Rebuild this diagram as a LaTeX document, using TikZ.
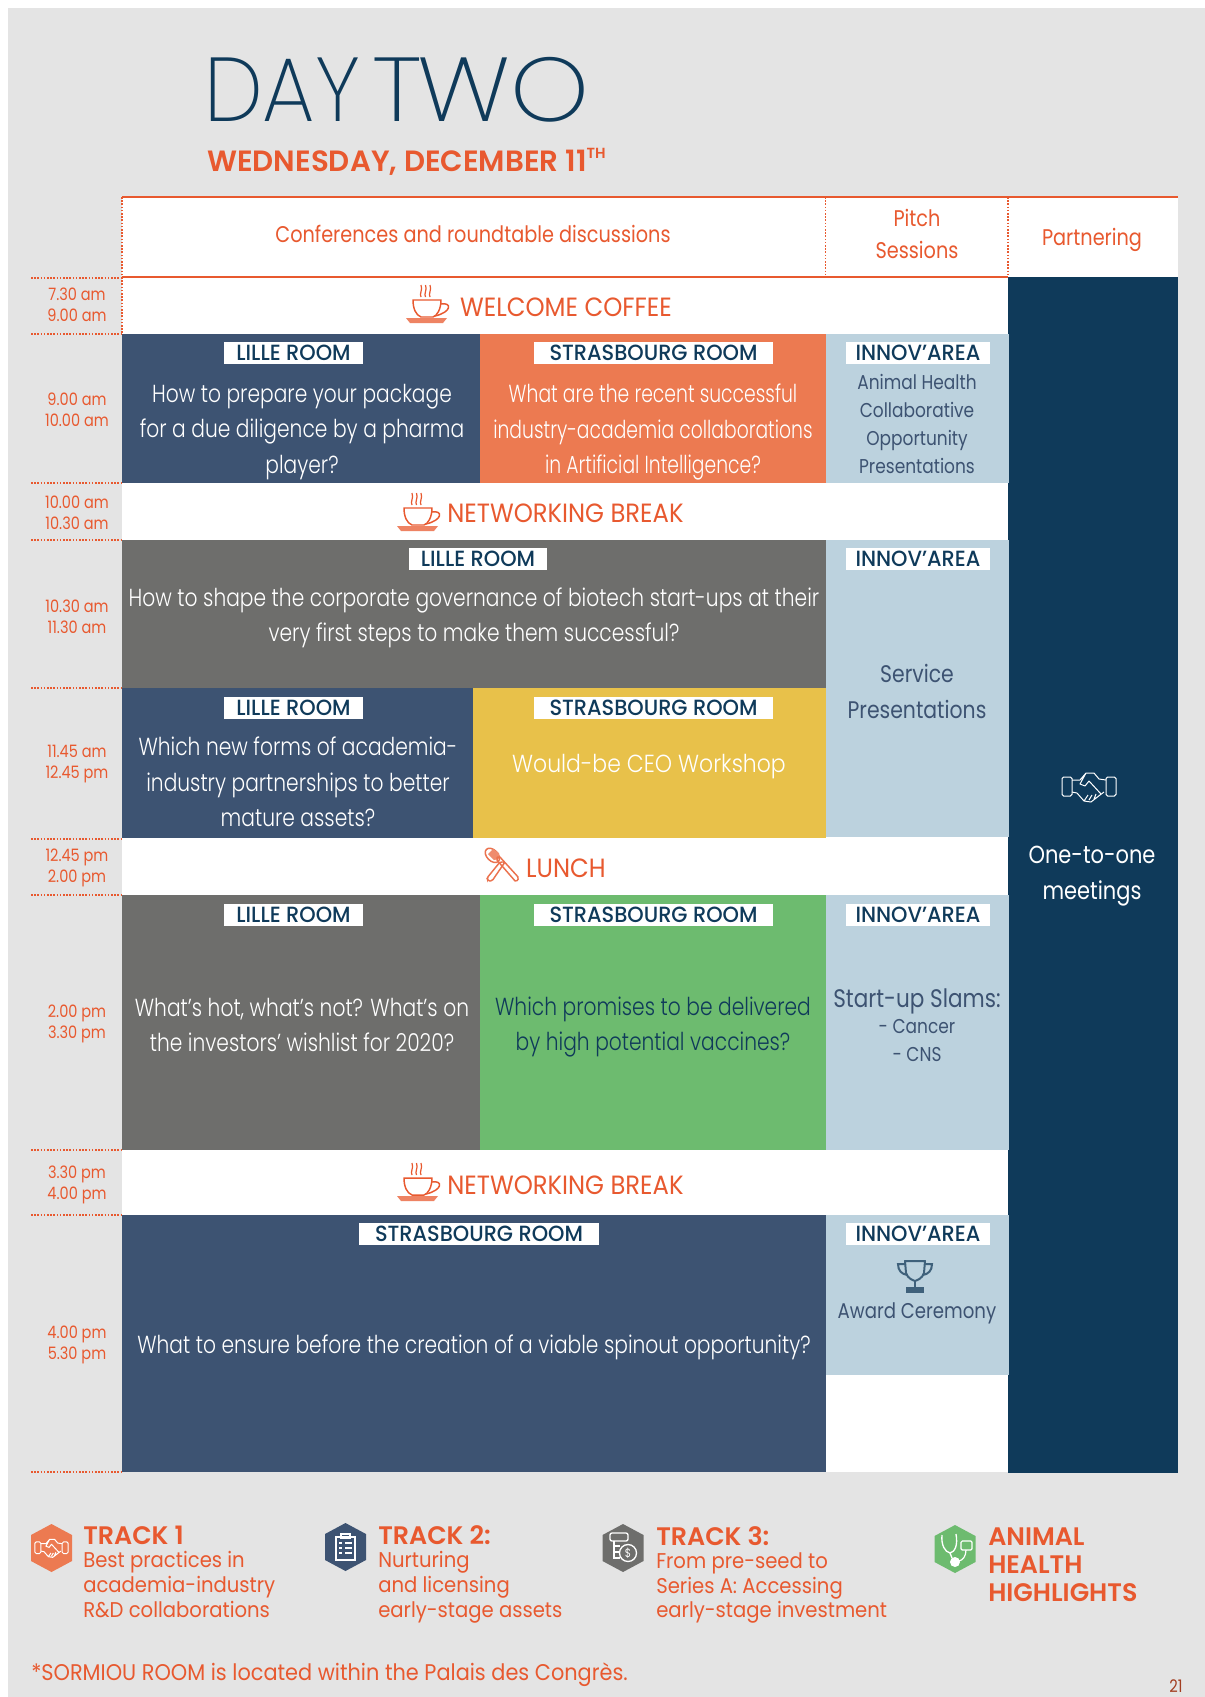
\documentclass[tikz,border=0pt]{standalone}
\usepackage{fontspec}
\setmainfont{Poppins}
\newfontfamily\lightf{Poppins Light}[FakeStretch=0.82]
\newfontfamily\lightn{Poppins Light}[FakeStretch=0.76]
\newfontfamily\lightw{Poppins Light}[FakeStretch=0.89]
\newfontfamily\regf{Poppins}[FakeStretch=0.85]
\newfontfamily\regw{Poppins}[FakeStretch=0.92]
\newfontfamily\medf{Poppins Medium}[FakeStretch=0.95]
\newfontfamily\boldf{Poppins SemiBold}[FakeStretch=1.0]
\newfontfamily\thinf{Poppins ExtraLight}[FakeStretch=0.92]
\definecolor{pagebg}{HTML}{E4E4E4}
\definecolor{navy}{HTML}{0F3A5A}
\definecolor{slate}{HTML}{3D5372}
\definecolor{orangecell}{HTML}{EC7A51}
\definecolor{orangetxt}{HTML}{E8592F}
\definecolor{pale}{HTML}{BCD2DE}
\definecolor{greycell}{HTML}{6E6E6C}
\definecolor{yellowcell}{HTML}{E8C14A}
\definecolor{greencell}{HTML}{6DBB6F}
\tikzset{
  cellbody/.style={align=center,text=white,inner sep=0pt,font=\lightf\fontsize{18.5}{26.5}\selectfont},
  paletext/.style={align=center,text=slate,inner sep=0pt,font=\regf\fontsize{15}{21}\selectfont},
  headtext/.style={align=center,text=orangetxt,inner sep=0pt,font=\regf\fontsize{17}{24}\selectfont},
  breaktext/.style={text=orangetxt,inner sep=0pt,font=\regw\fontsize{19.8}{24}\selectfont},
  timelabel/.style={align=center,text=orangetxt,inner sep=0pt,font=\regf\fontsize{12.8}{15.8}\selectfont},
  roomlabel/.style={fill=white,text=navy,inner sep=0pt,minimum height=17pt,font=\medf\fontsize{16.5}{16.5}\selectfont},
  legendhead/.style={anchor=west,text=orangetxt,inner sep=0pt,font=\boldf\fontsize{19}{21}\selectfont},
  legendtext/.style={anchor=north west,align=left,text=orangetxt,inner sep=0pt,font=\regw\fontsize{16}{18.7}\selectfont},
  dotrule/.style={orangetxt,line width=1pt,dash pattern=on 1.2pt off 1.2pt},
  cupicon/.pic={
    \draw[orangetxt,line width=1.1pt,line join=round] (-15,-4) -- (13,-4) .. controls (13,5) and (9,12) .. (5,13) -- (-7,13) .. controls (-12,11) and (-15,5) .. (-15,-4) -- cycle;
    \draw[orangetxt,line width=1.1pt] (13,0) .. controls (24,-2) and (24,8) .. (7,12);
    \fill[orangetxt!75!white] (-22,14) -- (19,14) -- (15,19) -- (-18,19) -- cycle;
    \foreach \sx in {-7,-2.5,2}
      \draw[orangetxt,line width=0.9pt] (\sx,-7) .. controls (\sx-2,-10) and (\sx+2,-14) .. (\sx,-19);
  },
  cutleryicon/.pic={
    \draw[orangetxt!85!white,line width=1.1pt,rotate=45] (0,-15) ellipse[x radius=5.5,y radius=8.5];
    \draw[orangetxt!85!white,line width=1.1pt,rounded corners=1.2pt] (-3,-4) -- (2,-4) -- (-11,15) -- (-15,15) -- (-16,12) -- cycle;
    \fill[orangetxt!70!white] (-15,-12) -- (-10,-17) -- (-4,-13) -- (-4,-7) -- (-9,-6) -- cycle;
    \draw[orangetxt!85!white,line width=1.1pt,rounded corners=1.2pt] (-7,-7) -- (-4,-10) -- (16,12) -- (13,16) -- cycle;
  },
  handsicon/.pic={
    \draw[line width=0.75pt,rounded corners=1.2pt] (-27,-10) rectangle (-17,9) (17,-10) rectangle (27,9);
    \draw[line width=0.75pt,line join=round] (-17,-7) -- (-9,-7) -- (-3,-14) -- (5,-14) -- (10,-8) -- (17,-7)
      (-17,5) -- (-12,6) -- (-5,14) -- (2,15) -- (11,8) -- (15,5)
      (-3,-14) -- (-9,-3) -- (-4,-1) -- (0,-6) -- (12,7)
      (-5,14) -- (-1,8) (0,13) -- (3,8) (5,12) -- (7,7);
  },
  trophyicon/.pic={
    \draw[navy!80!white,line width=1.5pt,line join=round] (-10,-15) -- (10,-15) -- (9,-3) .. controls (7,3) and (2,4) .. (0,5) .. controls (-2,4) and (-7,3) .. (-9,-3) -- cycle;
    \draw[navy!80!white,line width=1.5pt] (-10,-12) -- (-17,-12) .. controls (-17,-5) and (-13,-2) .. (-8,-1) (10,-12) -- (17,-12) .. controls (17,-5) and (13,-2) .. (8,-1);
    \draw[navy!80!white,line width=1.5pt] (0,5) -- (0,11);
    \fill[navy!80!white] (-9,11) rectangle (9,17);
  },
  hexagonback/.pic={
    \fill (0,-24) -- (20.5,-13) -- (20.5,13) -- (0,24) -- (-20.5,13) -- (-20.5,-13) -- cycle;
  },
}
\begin{document}
\begin{tikzpicture}[x=0.75pt,y=-0.75pt]
\useasboundingbox (0,0) rectangle (1205,1697);
\fill[white] (0,0) rectangle (1205,1697);
\fill[pagebg] (8,8) rectangle (1205,1697);
% table ground
\fill[white] (122,196) rectangle (1177.5,1472);
\fill[navy] (1008,277) rectangle (1177.5,1473);
% cells
\fill[slate] (122,334) rectangle (480,483);
\fill[orangecell] (480,334) rectangle (826,483);
\fill[pale] (826,334) rectangle (1009,483);
\fill[greycell] (122,540) rectangle (826,688);
\fill[slate] (122,688) rectangle (473,838);
\fill[yellowcell] (473,688) rectangle (826,838);
\fill[pale] (826,540) rectangle (1009,837);
\fill[greycell] (122,895) rectangle (480,1150);
\fill[greencell] (480,895) rectangle (826,1150);
\fill[pale] (826,895) rectangle (1009,1150);
\fill[slate] (122,1215) rectangle (826,1472);
\fill[pale] (826,1215) rectangle (1009,1375);
% header rules
\draw[orangetxt,line width=1.6pt] (122,197) -- (1177.5,197);
\draw[orangetxt,line width=1.4pt] (122,277) -- (1008,277);
\draw[dotrule] (122,197) -- (122,334);
\draw[dotrule] (825.5,197) -- (825.5,277);
\draw[dotrule] (1008,197) -- (1008,277);
\foreach \ry in {278,334,483,540,688,839,895,1150,1215,1472}
  \draw[dotrule] (31,\ry) -- (122,\ry);
% title
\node[anchor=base west,text=navy,inner sep=0pt,font=\thinf\fontsize{68}{68}\selectfont] (title) at (204,121) {\scalebox{1.0}[1]{DAY}\kern-0.13em\ \scalebox{1.2}[1]{T\kern-0.04em WO}};
\node[anchor=west,text=orangetxt,inner sep=0pt,font=\boldf\fontsize{22}{24}\selectfont] (subtitle) at (207,162) {WEDNESDAY, DECEMBER 11\raisebox{0.45em}{\fontsize{11}{12}\selectfont TH}};
% headers
\node[headtext] (hconf) at (473,234) {Conferences and roundtable discussions};
\node[headtext] (hpitch) at (917,234) {Pitch\\Sessions};
\node[headtext] (hpart) at (1092,240) {Partnering};
% times
\node[timelabel] (t1) at (77,305) {7.30 am\\9.00 am};
\node[timelabel] (t2) at (77,410) {9.00 am\\10.00 am};
\node[timelabel] (t3) at (77,513) {10.00 am\\10.30 am};
\node[timelabel] (t4) at (77,617) {10.30 am\\11.30 am};
\node[timelabel] (t5) at (77,764) {11.45 am\\12.45 pm};
\node[timelabel] (t6) at (77,868) {12.45 pm\\2.00 pm};
\node[timelabel] (t7) at (77,1024) {2.00 pm\\3.30 pm};
\node[timelabel] (t8) at (77,1185) {3.30 pm\\4.00 pm};
\node[timelabel] (t9) at (77,1345) {4.00 pm\\5.30 pm};
% breaks
\pic at (428,304) {cupicon};
\node[breaktext] (welcome) at (566,307) {WELCOME COFFEE};
\pic at (419,512) {cupicon};
\node[breaktext] (break1) at (565.5,513) {NETWORKING BREAK};
\pic at (503,866) {cutleryicon};
\node[breaktext] (lunch) at (566,868) {LUNCH};
\pic at (419,1182) {cupicon};
\node[breaktext] (break2) at (565.5,1185) {NETWORKING BREAK};
% room labels
\node[roomlabel,minimum width=104pt] (r1a) at (293.5,353) {LILLE ROOM};
\node[roomlabel,minimum width=179pt] (r1b) at (653.5,353) {STRASBOURG ROOM};
\node[roomlabel,minimum width=108pt] (r1c) at (918,353) {INNOV’AREA};
\node[roomlabel,minimum width=103.5pt] (r2a) at (478,559) {LILLE ROOM};
\node[roomlabel,minimum width=108pt] (r2c) at (918,559) {INNOV’AREA};
\node[roomlabel,minimum width=104pt] (r3a) at (293.5,708) {LILLE ROOM};
\node[roomlabel,minimum width=179pt] (r3b) at (653.5,708) {STRASBOURG ROOM};
\node[roomlabel,minimum width=104pt] (r4a) at (293.5,915) {LILLE ROOM};
\node[roomlabel,minimum width=179pt] (r4b) at (653.5,915) {STRASBOURG ROOM};
\node[roomlabel,minimum width=108pt] (r4c) at (918,915) {INNOV’AREA};
\node[roomlabel,minimum width=180pt] (r5b) at (479,1234) {STRASBOURG ROOM};
\node[roomlabel,minimum width=108pt] (r5c) at (918,1234) {INNOV’AREA};
% cell texts
\node[cellbody] (c1a) at (302,432) {How to prepare your package\\for a due diligence by a pharma\\player?};
\node[cellbody,font=\lightn\fontsize{18.5}{26.5}\selectfont] (c1b) at (653,432) {What are the recent successful\\industry-academia collaborations\\in Artificial Intelligence?};
\node[paletext] (c1c) at (917,424) {Animal Health\\Collaborative\\Opportunity\\Presentations};
\node[cellbody] (c2a) at (474,618) {How to shape the corporate governance of biotech start-ups at their\\very first steps to make them successful?};
\node[paletext,font=\regf\fontsize{18}{27}\selectfont] (c2c) at (917,691) {Service\\Presentations};
\node[cellbody] (c3a) at (298,782) {Which new forms of academia-\\industry partnerships to better\\mature assets?};
\node[cellbody,font=\lightw\fontsize{18.5}{26.5}\selectfont] (c3b) at (649,767) {Would-be CEO Workshop};
\node[cellbody] (c4a) at (302,1025) {What’s hot, what’s not? What’s on\\the investors’ wishlist for 2020?};
\node[cellbody,text=navy] (c4b) at (653,1027) {Which promises to be delivered\\by high potential vaccines?};
\node[paletext,font=\regf\fontsize{19}{22}\selectfont] (c4c) at (917,1001) {Start-up Slams:};
\node[paletext] (c4d) at (917,1040) {- Cancer\\- CNS};
\node[cellbody] (c5a) at (474,1347) {What to ensure before the creation of a viable spinout opportunity?};
\pic at (915,1276) {trophyicon};
\node[paletext,font=\regf\fontsize{16}{21}\selectfont] (c5c) at (917,1313) {Award Ceremony};
% sidebar
\pic[white] at (1089,787) {handsicon};
\node[cellbody,font=\regf\fontsize{18.5}{26.5}\selectfont] (side) at (1092,876) {One-to-one\\meetings};
% legend
\pic[orangecell] at (51.5,1548) {hexagonback};
\pic[white,scale=0.62] at (51.5,1548) {handsicon};
\node[legendhead] (l1h) at (83,1535) {TRACK 1};
\node[legendtext] (l1t) at (83,1551) {Best practices in\\academia-industry\\R\&D collaborations};
\pic[slate] at (345.5,1547) {hexagonback};
\draw[white,line width=0.9pt] (336,1537) rectangle (355,1560) (341,1534) rectangle (350,1538);
\draw[white,line width=0.9pt] (339,1543) -- (342,1543) (345,1543) -- (352,1543) (339,1548) -- (342,1548) (345,1548) -- (352,1548) (339,1553) -- (342,1553) (345,1553) -- (352,1553);
\node[legendhead] (l2h) at (378,1535) {TRACK 2:};
\node[legendtext] (l2t) at (378,1551) {Nurturing\\and licensing\\early-stage assets};
\pic[greycell] at (623,1548) {hexagonback};
\draw[white,line width=1pt,rounded corners=1.5pt] (610,1533) rectangle (628,1541);
\draw[white,line width=0.9pt] (614,1541) -- (614,1558) -- (620,1558) (614,1546) -- (620,1546) (614,1552) -- (619,1552);
\draw[white,line width=1pt] (628,1553) circle[radius=8.5];
\node[text=white,inner sep=0pt,font=\regf\fontsize{9}{10}\selectfont] (coin) at (628,1553) {\$};
\node[legendhead] (l3h) at (656,1536) {TRACK 3:};
\node[legendtext] (l3t) at (656,1552) {From pre-seed to\\Series A: Accessing\\early-stage investment};
\pic[greencell] at (955,1549) {hexagonback};
\draw[white,line width=1pt] (942,1535) .. controls (941,1545) and (945,1552) .. (950,1553) .. controls (955,1552) and (958,1545) .. (956,1534) (950,1553) -- (952,1558);
\fill[white] (955,1562) circle[radius=5];
\draw[white,line width=0.9pt,rounded corners=1pt] (961,1541) rectangle (972,1550);
\draw[white,line width=0.9pt] (966,1550) .. controls (966,1556) and (963,1560) .. (959,1561);
\node[legendhead,align=left,anchor=north west,font=\boldf\fontsize{19}{21}\selectfont] (l4h) at (988,1528) {ANIMAL\\HEALTH\\HIGHLIGHTS};
\node[anchor=west,text=orangetxt,inner sep=0pt,font=\regw\fontsize{17}{18}\selectfont] (foot) at (31,1675) {*SORMIOU ROOM is located within the Palais des Congrès.};
\node[text=orangetxt!70!black,inner sep=0pt,font=\regf\fontsize{13}{14}\selectfont] (pageno) at (1176,1686) {21};
\end{tikzpicture}
\end{document}
